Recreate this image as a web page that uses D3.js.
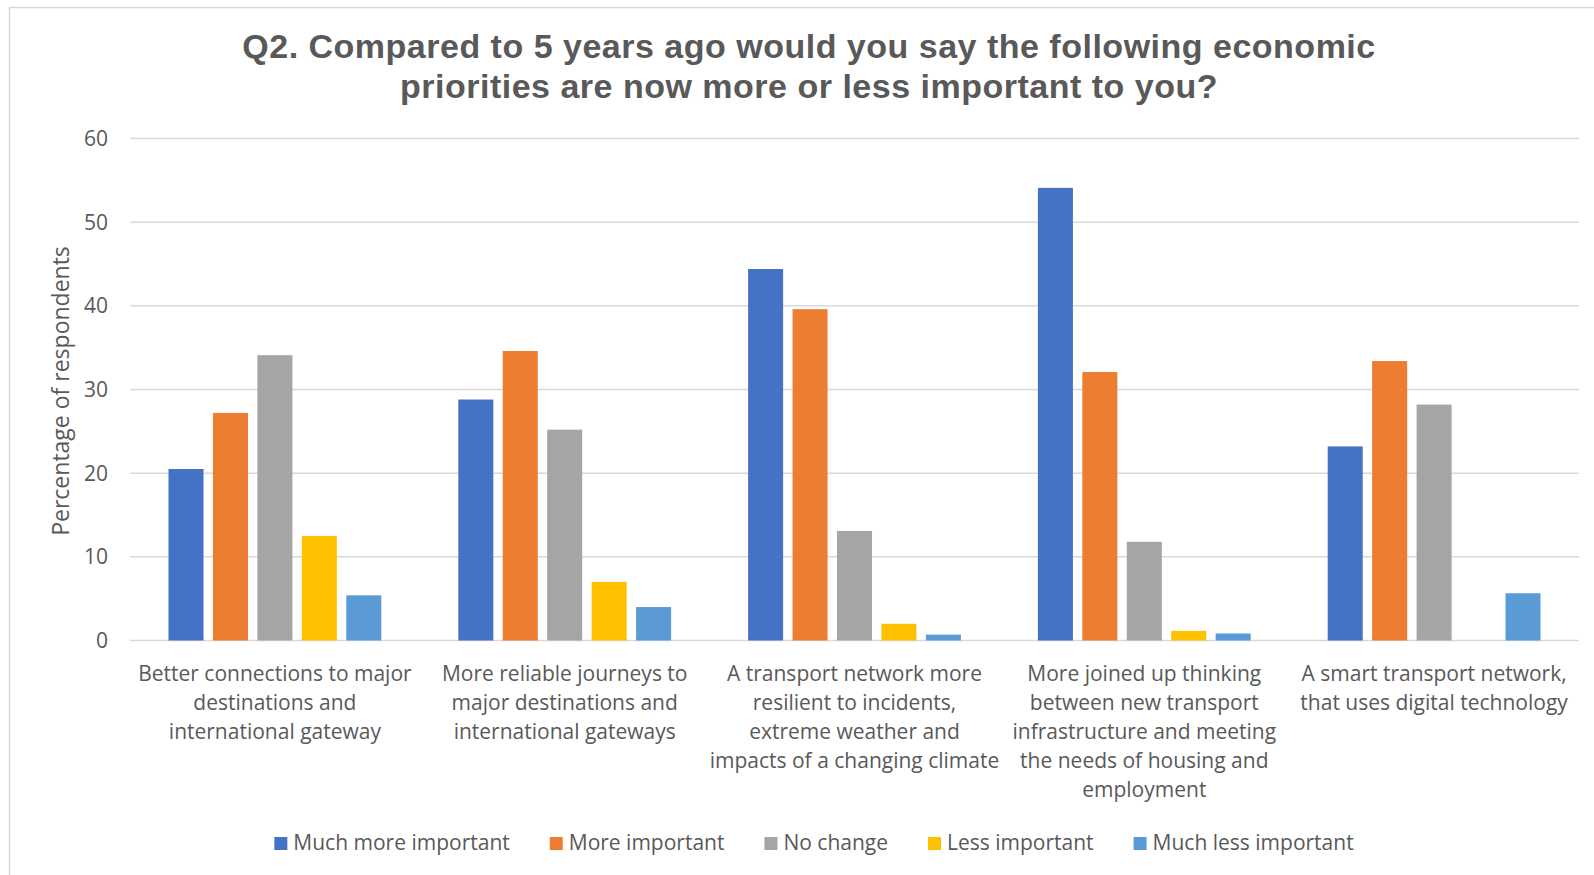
<!DOCTYPE html>
<html>
<head>
<meta charset="utf-8">
<script src="https://cdn.jsdelivr.net/npm/d3@7"></script>
<style>
  body { margin: 0; background: #fff; }
  svg { display: block; }
</style>
</head>
<body>
<svg id="chart" width="1594" height="875"></svg>
<script>
// data
const categories = [
  ["Better connections to major", "destinations and", "international gateway"],
  ["More reliable journeys to", "major destinations and", "international gateways"],
  ["A transport network more", "resilient to incidents,", "extreme weather and", "impacts of a changing climate"],
  ["More joined up thinking", "between new transport", "infrastructure and meeting", "the needs of housing and", "employment"],
  ["A smart transport network,", "that uses digital technology"]
];
const series = ["Much more important", "More important", "No change", "Less important", "Much less important"];
const colors = ["#4472C4", "#ED7D31", "#A5A5A5", "#FFC000", "#5B9BD5"];
const muchMore = [20.5, 28.8, 44.4, 54.1, 23.2];
const more = [27.2, 34.6, 39.6, 32.1, 33.4];
const noChange = [34.1, 25.2, 13.1, 11.8, 28.2];
const less = [12.5, 7.0, 2.0, 1.15, 0];
const muchLess = [5.4, 4.0, 0.7, 0.84, 5.65];
const yTicks = [0, 10, 20, 30, 40, 50, 60];
const titleLines = ["Q2. Compared to 5 years ago would you say the following economic",
                    "priorities are now more or less important to you?"];

const values = [muchMore, more, noChange, less, muchLess];
const svg = d3.select("#chart");
const textCol = "#595959";
const font = "'Open Sans', sans-serif";

// chart border
svg.append("rect").attr("x", 9.5).attr("y", 7.5).attr("width", 1600).attr("height", 900)
  .attr("fill", "white").attr("stroke", "#d9d9d9").attr("stroke-width", 1.5);

const plotL = 130, plotR = 1579, plotT = 138.5, plotB = 640.5;

const y = d3.scaleLinear().domain([0, 60]).range([plotB, plotT]);
const x0 = d3.scaleBand().domain(d3.range(categories.length)).range([plotL, plotR]).padding(0);
const x1 = d3.scaleBand().domain(d3.range(series.length)).range([0, x0.bandwidth()])
  .paddingInner(0.212).paddingOuter(0.866);

// gridlines
svg.append("g").selectAll("line").data(yTicks).join("line")
  .attr("x1", plotL).attr("x2", plotR)
  .attr("y1", d => y(d)).attr("y2", d => y(d))
  .attr("stroke", "#d9d9d9").attr("stroke-width", 1.5);

// y tick labels
svg.append("g").selectAll("text").data(yTicks).join("text")
  .attr("x", 108).attr("y", d => y(d)).attr("dy", "0.35em")
  .attr("text-anchor", "end").attr("fill", textCol)
  .attr("font-family", font).attr("font-size", 21).text(d => d);

// bars
const groups = svg.append("g").selectAll("g").data(categories).join("g")
  .attr("transform", (d, i) => `translate(${x0(i)},0)`);
groups.selectAll("rect").data((d, i) => values.map((v, s) => ({ s, v: v[i] }))).join("rect")
  .attr("x", d => x1(d.s)).attr("width", x1.bandwidth())
  .attr("y", d => y(d.v)).attr("height", d => y(0) - y(d.v))
  .attr("fill", d => colors[d.s]);

// category labels
groups.append("text")
  .attr("text-anchor", "middle").attr("fill", textCol)
  .attr("font-family", font).attr("font-size", 21)
  .selectAll("tspan").data(d => d).join("tspan")
  .attr("x", x0.bandwidth() / 2)
  .attr("y", (d, i) => 681 + i * 29)
  .text(d => d);

// y axis title
svg.append("text")
  .attr("transform", "translate(69,391) rotate(-90)")
  .attr("text-anchor", "middle").attr("fill", textCol)
  .attr("font-family", font).attr("font-size", 23)
  .text("Percentage of respondents");

// title
const title = svg.append("g");
titleLines.forEach((line, i) => {
  title.append("text")
    .attr("x", 809).attr("y", 58 + i * 39.5)
    .attr("text-anchor", "middle").attr("fill", textCol)
    .attr("font-family", "'Liberation Sans', Arial, sans-serif")
    .attr("font-size", 34).attr("font-weight", "bold")
    .attr("letter-spacing", 0.5)
    .text(line);
});

// legend
const legend = svg.append("g");
let lx = 0;
series.forEach((name, i) => {
  const item = legend.append("g").attr("transform", `translate(${lx},0)`);
  item.append("rect").attr("x", 0).attr("y", -6).attr("width", 13).attr("height", 13).attr("fill", colors[i]);
  const t = item.append("text").attr("x", 19).attr("y", 0).attr("dy", "0.35em")
    .attr("fill", textCol).attr("font-family", font).attr("font-size", 21).text(name);
  lx += 19 + t.node().getComputedTextLength() + 40;
});
const legW = lx - 40;
legend.attr("transform", `translate(${814 - legW / 2},843)`);
</script>
</body>
</html>
